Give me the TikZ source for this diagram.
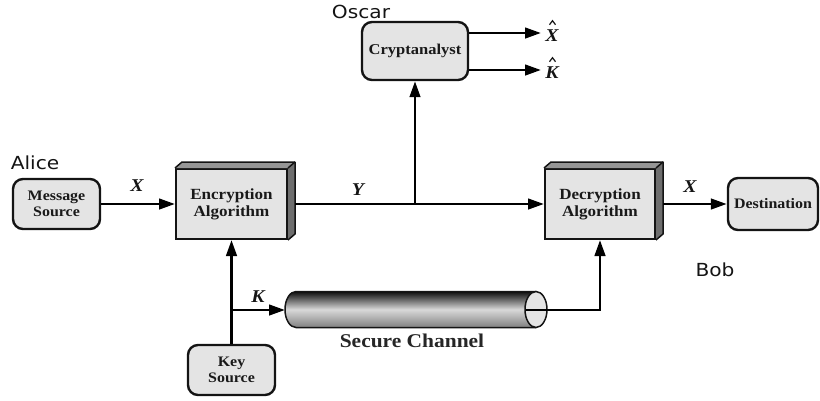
\documentclass[tikz,border=0pt]{standalone}
\usepackage{fontspec}
\setmainfont{Liberation Serif}[FakeStretch=1.1]
\newfontfamily\namefont{DejaVu Sans}[FakeStretch=1.12]
\usetikzlibrary{arrows.meta,calc}
\definecolor{boxfill}{RGB}{228,228,228}
\definecolor{topface}{RGB}{150,150,150}
\definecolor{sideface}{RGB}{110,110,110}
\definecolor{edge}{RGB}{20,20,20}
\begin{document}
\begin{tikzpicture}[x=1pt,y=-1pt,
  line width=2.8pt,
  arr/.style={-{Triangle[length=16pt,width=10.5pt]}},
  roundbox/.style={draw=edge, line width=2.4pt, fill=boxfill, rounded corners=10pt,
    align=center, inner sep=0pt, text=black!90,
    font=\fontsize{14.5}{15.5}\selectfont\bfseries},
  algbox/.style={draw=edge, line width=2pt, fill=boxfill, align=center,
    inner sep=0pt, text=black!90, minimum width=110pt, minimum height=70pt,
    font=\fontsize{15.5}{17}\selectfont\bfseries},
  sym/.style={font=\fontsize{18}{18}\selectfont\bfseries\itshape, text=edge},
  who/.style={font=\namefont\fontsize{18}{18}\selectfont, text=edge},
  face/.style={draw=edge, line width=1.5pt, line join=round},
  hatmark/.style={draw=edge, line width=1.2pt, line join=miter}
]
\useasboundingbox (0,0) rectangle (820,400);

% end points and sources
\node[roundbox, minimum width=87pt, minimum height=50pt] (msg) at (56.5,204) {Message\\Source};
\node[roundbox, minimum width=90pt, minimum height=52pt] (dst) at (773,204) {Destination};
\node[roundbox, minimum width=87pt, minimum height=50pt] (key) at (231.5,370) {Key\\Source};
\node[roundbox, minimum width=106pt, minimum height=58pt,
      font=\fontsize{15}{16}\selectfont\bfseries] (crypt) at (415,51) {Cryptanalyst};

% three-dimensional algorithm blocks
\node[algbox, minimum width=111pt] (enc) at (231.5,204) {Encryption\\Algorithm};
\fill[topface] (enc.north west) -- ++(7,-6) -- ($(enc.north east)+(7,-6)$) -- (enc.north east) -- cycle;
\fill[sideface] (enc.north east) -- ++(7,-6) -- ($(enc.south east)+(7,-6)$) -- (enc.south east) -- cycle;
\draw[face] (enc.north west) -- ++(7,-6) -- ($(enc.north east)+(7,-6)$) -- ($(enc.south east)+(7,-6)$) -- (enc.south east);
\draw[face] (enc.north east) -- ++(7,-6);

\node[algbox] (dec) at (600,204) {Decryption\\Algorithm};
\fill[topface] (dec.north west) -- ++(7,-6) -- ($(dec.north east)+(7,-6)$) -- (dec.north east) -- cycle;
\fill[sideface] (dec.north east) -- ++(7,-6) -- ($(dec.south east)+(7,-6)$) -- (dec.south east) -- cycle;
\draw[face] (dec.north west) -- ++(7,-6) -- ($(dec.north east)+(7,-6)$) -- ($(dec.south east)+(7,-6)$) -- (dec.south east);
\draw[face] (dec.north east) -- ++(7,-6);

% secure channel pipe
\shade[top color=black!95, bottom color=black!50, middle color=white!85!black]
  (296,291.5) -- (536,291.5) arc[start angle=-90, end angle=90, x radius=11, y radius=18]
  -- (296,327.5) arc[start angle=90, end angle=270, x radius=11, y radius=18] -- cycle;
\draw[edge, line width=1.5pt]
  (296,291.5) -- (536,291.5) (536,327.5) -- (296,327.5)
  arc[start angle=90, end angle=270, x radius=11, y radius=18];
\filldraw[fill=boxfill, draw=edge, line width=1.5pt] (536,309.5) ellipse[x radius=11, y radius=18];
\node[font=\fontsize{19.5}{20}\selectfont\bfseries, text=black!85] (sc) at (412,341) {Secure Channel};

% connectors
\coordinate (encR) at ($(enc.east)+(7,0)$);
\coordinate (decR) at ($(dec.east)+(7,0)$);
\coordinate (yb) at (crypt.south |- encR);
\coordinate (kb) at (key.north |- 0,310);
\coordinate (pipeIn) at (285,310);
\coordinate (pipeOut) at (526,310);
\coordinate (pipeTurn) at (dec.south |- pipeOut);
\coordinate (xh) at (541,33);
\coordinate (kh) at (541,70);

\draw[arr] (msg) -- (enc);
\draw[arr] (encR) -- (dec);
\draw[arr] (yb) -- (crypt);
\draw[arr] (decR) -- (dst);
\draw[arr] (key) -- (enc);
\draw[arr] (kb) -- (pipeIn);
\draw[arr] (pipeOut) -- (pipeTurn) -- (dec);
\draw[arr] (crypt.east |- xh) -- (xh);
\draw[arr] (crypt.east |- kh) -- (kh);

% signal labels
\node[sym] (lx1) at (137,186) {X};
\node[sym] (ly) at (358,190) {Y};
\node[sym] (lx2) at (690,187) {X};
\node[sym] (lk) at (258,297) {K};
\node[sym, anchor=west, inner sep=1pt] (lxh) at (543,36) {X};
\node[sym, anchor=west, inner sep=1pt] (lkh) at (543,73) {K};
% estimate carets over the two outputs
\draw[hatmark] ($(lxh.north)+(-2.5,-3)$) -- ++(3,-4) -- ++(3,4);
\draw[hatmark] ($(lkh.north)+(-2.5,-3)$) -- ++(3,-4) -- ++(3,4);

% party names
\node[who] (alice) at (35,163) {Alice};
\node[who] (oscar) at (361,12) {Oscar};
\node[who] (bob) at (715,270) {Bob};
\end{tikzpicture}
\end{document}
